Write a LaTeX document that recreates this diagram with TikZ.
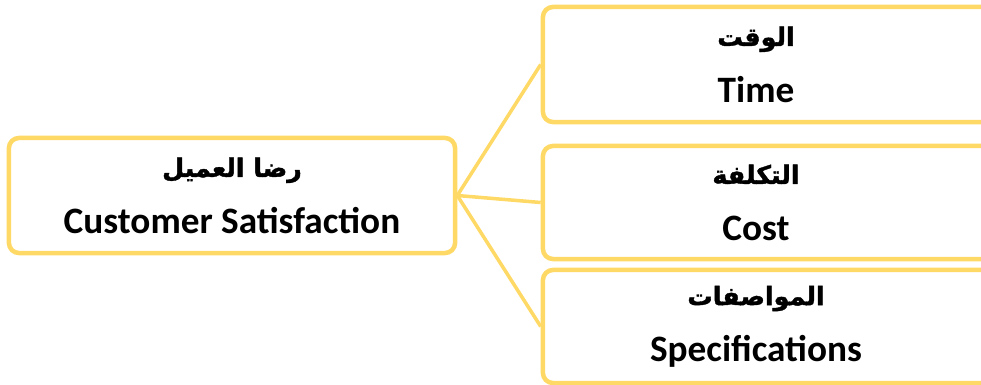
\documentclass[tikz,border=0pt]{standalone}
\usepackage{fontspec}
\setmainfont{Carlito}
\newfontfamily\arabicfont[Script=Arabic, BoldFeatures={FakeBold=1.5}]{DejaVu Sans}
\TeXXeTstate=1
\usetikzlibrary{calc}
\definecolor{gold}{RGB}{255,217,102}
\newcommand{\goalbox}[2]{
	\node[draw = gold, line width = 3.2pt, rounded corners = 0.25cm, fill = white, align = center, font = \fontsize{26.5}{28}\selectfont\bfseries, minimum width = #1, minimum height = #2, inner sep = 0pt]
}
\newcommand{\ar}[1]{{\arabicfont\fontsize{18}{28}\selectfont\bfseries\beginR #1\endR}}

\begin{document}
\begin{tikzpicture}[x=0.025cm, y=-0.025cm, link/.style={draw = gold, line width = 2.5pt}]
		\useasboundingbox (0,0) rectangle (981,385);
		\clip (0,0) rectangle (981,385);

		\goalbox{11.15cm}{2.875cm} (sat) at (232, 195.5) {\ar{رضا العميل}\\[12pt] Customer Satisfaction};

		\goalbox{11.5cm}{2.875cm} (time) at (773, 64.5) {\ar{الوقت}\hspace*{0.85cm}\\[12pt] Time\hspace*{0.85cm}};
		\goalbox{11.5cm}{2.825cm} (cost) at (773, 202.5) {\ar{التكلفة}\hspace*{0.85cm}\\[12pt] Cost\hspace*{0.85cm}};
		\goalbox{11.5cm}{2.825cm} (spec) at (773, 326.5) {\ar{المواصفات}\hspace*{0.85cm}\\[12pt] Specifications\hspace*{0.85cm}};

		\draw[link] (sat.east) -- (time.west);
		\draw[link] (sat.east) -- (cost.west);
		\draw[link] (sat.east) -- (spec.west);
	\end{tikzpicture}
\end{document}
